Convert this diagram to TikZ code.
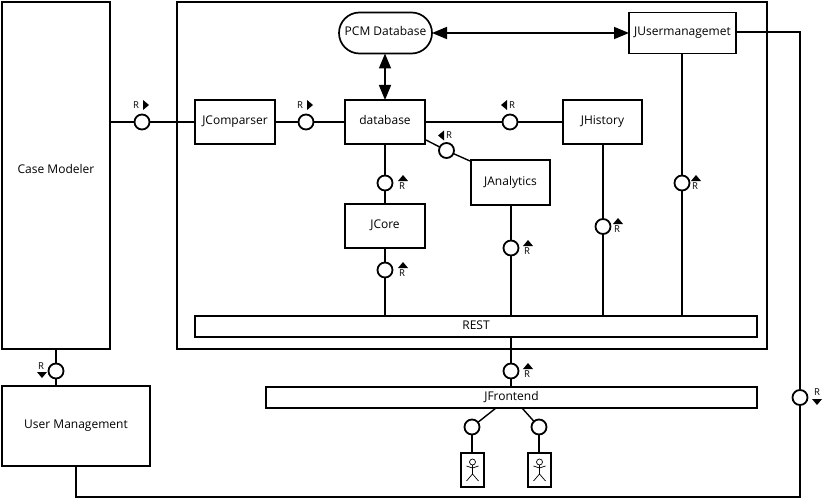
\documentclass[tikz,border=0pt]{standalone}
\usepackage{fontspec}
\setmainfont{Open Sans}
\usetikzlibrary{arrows.meta,shapes.misc}
\tikzset{
  x=1pt,y=-1pt,
  box/.style={draw=black,line width=1.7pt,fill=white,inner sep=0pt,outer sep=0pt,font=\fontsize{12}{14}\selectfont,text height=8pt,text depth=3pt},
  pill/.style={box,rounded rectangle},
  ball/.style={circle,draw=black,line width=1.8pt,fill=white,minimum size=15pt,inner sep=0pt,outer sep=0pt},
  wire/.style={line width=1.4pt,draw=black},
  big/.style={line width=1.6pt,{Triangle[length=15pt,width=12pt]}-{Triangle[length=15pt,width=12pt]}},
  rlabel/.style={font=\fontsize{9.5}{10}\selectfont,inner sep=0pt},
  tri/.style={fill=black},
  man/.style={line width=0.7pt}
}
\newcommand{\triR}[3]{\fill[tri,shift={(#1,#2)},rotate=#3] (-3,-5) -- (3,0) -- (-3,5) -- cycle;}
\newcommand{\stick}[1]{\begin{scope}[shift={(#1,0)},man]
  \draw (0,462) circle (3);
  \draw (0,465) -- (0,474) (-6,466) -- (0,468) -- (6,466) (-6,481) -- (0,474) -- (6,481);
\end{scope}}
\begin{document}
\begin{tikzpicture}
\useasboundingbox (0,0) rectangle (824,500);
\node[box,minimum width=590pt,minimum height=347pt] (outer) at (472,175.5) {};
\node[box,minimum width=108pt,minimum height=347pt,label={[yshift=7pt,font=\fontsize{12}{14}\selectfont]center:Case Modeler}] (case) at (56,175.5) {};
\node[box,minimum width=148pt,minimum height=80pt] (um) at (76,426) {User Management};
\node[pill,minimum width=93pt,minimum height=41pt] (pcm) at (385.5,33) {PCM Database};
\node[box,minimum width=107pt,minimum height=41pt] (usr) at (682.5,33) {JUsermanagemet};
\node[box,minimum width=80pt,minimum height=44pt] (cmp) at (235,122) {JComparser};
\node[box,minimum width=80pt,minimum height=44pt] (db) at (385,122) {database};
\node[box,minimum width=79pt,minimum height=44pt] (hist) at (602.5,122) {JHistory};
\node[box,minimum width=79pt,minimum height=45pt] (ana) at (510.5,182.5) {JAnalytics};
\node[box,minimum width=80pt,minimum height=44pt] (core) at (385,226) {JCore};
\node[box,minimum width=562pt,minimum height=21pt] (rest) at (476,326.5) {REST};
\node[box,minimum width=491pt,minimum height=21pt] (front) at (511.5,397.5) {JFrontend};
\node[box,minimum width=23pt,minimum height=34pt] (a1) at (472.5,470) {};
\node[box,minimum width=23pt,minimum height=34pt] (a2) at (539.5,470) {};
\stick{472.5}
\stick{539.5}
\coordinate (dbana) at (426,140);
\coordinate (anadb) at (470,161);
\coordinate (f1) at (496,408);
\coordinate (f2) at (522,408);
\coordinate (uc1) at (800,32);
\coordinate (uc2) at (800,497);
\coordinate (uc3) at (76,497);
% sockets
\node[ball] (c1) at (142,122) {};
\node[ball] (c2) at (306,122) {};
\node[ball] (c3) at (510,122) {};
\node[ball] (c4) at (446.5,150.5) {};
\node[ball] (c5) at (385,183) {};
\node[ball] (c6) at (385,270) {};
\node[ball] (c7) at (511,248) {};
\node[ball] (c8) at (603,226.5) {};
\node[ball] (c9) at (682,183) {};
\node[ball] (c10) at (511,371) {};
\node[ball] (c11) at (56,371) {};
\node[ball] (c12) at (800,397.5) {};
\node[ball] (c13) at (472,427) {};
\node[ball] (c14) at (539,427) {};
% connectors
\draw[wire] (case.east |- c1) -- (c1);
\draw[wire] (c1) -- (cmp);
\draw[wire] (cmp) -- (c2);
\draw[wire] (c2) -- (db);
\draw[wire] (db) -- (c3);
\draw[wire] (c3) -- (hist);
\draw[wire] (dbana) -- (c4);
\draw[wire] (c4) -- (anadb);
\draw[wire] (db) -- (c5);
\draw[wire] (c5) -- (core);
\draw[wire] (core) -- (c6);
\draw[wire] (c6) -- (rest.north -| c6);
\draw[wire] (ana.south -| c7) -- (c7);
\draw[wire] (c7) -- (rest.north -| c7);
\draw[wire] (hist.south -| c8) -- (c8);
\draw[wire] (c8) -- (rest.north -| c8);
\draw[wire] (usr.south -| c9) -- (c9);
\draw[wire] (c9) -- (rest.north -| c9);
\draw[wire] (rest.south -| c10) -- (c10);
\draw[wire] (c10) -- (front.north -| c10);
\draw[wire] (case.south -| c11) -- (c11);
\draw[wire] (c11) -- (um.north -| c11);
\draw[wire] (usr.east |- uc1) -- (uc1) -- (c12);
\draw[wire] (c12) -- (uc2) -- (uc3) -- (um.south);
\draw[wire] (f1) -- (c13);
\draw[wire] (f2) -- (c14);
\draw[wire] (c13) -- (c13 |- a1.north);
\draw[wire] (c14) -- (c14 |- a2.north);
\draw[big] (pcm.south -| db) -- (db);
\draw[big] (pcm) -- (usr);
% port marks
\triR{146}{105}{0}
\triR{310}{105}{0}
\triR{504}{105}{180}
\triR{441}{135.5}{180}
\triR{403}{178}{90}
\triR{403}{265}{90}
\triR{528}{243}{90}
\triR{618}{221}{90}
\triR{696}{178}{90}
\triR{528}{366}{90}
\triR{42}{375}{-90}
\triR{817}{402}{-90}
\node[rlabel] (r1) at (136,105.5) {R};
\node[rlabel] (r2) at (300,105.5) {R};
\node[rlabel] (r3) at (512,105.5) {R};
\node[rlabel] (r4) at (449,135.5) {R};
\node[rlabel] (r5) at (402,186) {R};
\node[rlabel] (r6) at (402,273) {R};
\node[rlabel] (r7) at (527,251) {R};
\node[rlabel] (r8) at (617,229) {R};
\node[rlabel] (r9) at (695,186) {R};
\node[rlabel] (r10) at (527,374) {R};
\node[rlabel] (r11) at (41,366) {R};
\node[rlabel] (r12) at (817,392) {R};
\end{tikzpicture}
\end{document}
